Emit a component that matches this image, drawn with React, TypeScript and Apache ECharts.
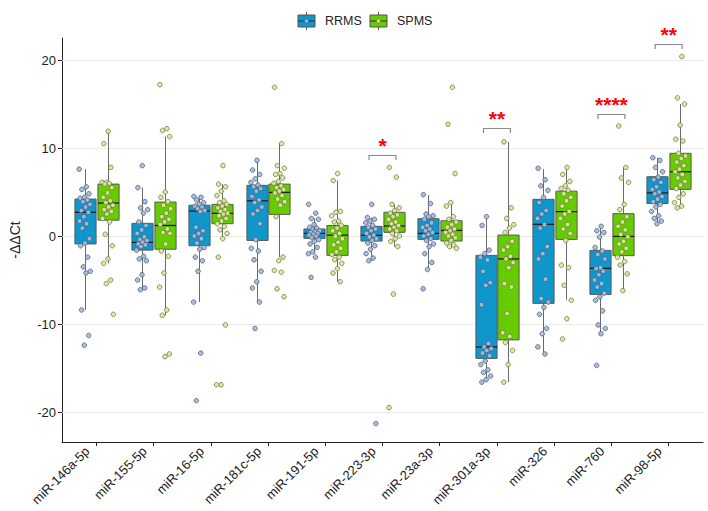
import React, { useEffect, useRef } from "react";
import * as echarts from "echarts";

const categories = [
  "miR-146a-5p", "miR-155-5p", "miR-16-5p", "miR-181c-5p", "miR-191-5p", "miR-223-3p",
  "miR-23a-3p", "miR-301a-3p", "miR-326", "miR-760", "miR-98-5p",
];
const groupNames = ["RRMS", "SPMS"];
const yTicks = [-20, -10, 0, 10, 20];

// box summaries: [lower whisker, Q1, median, Q3, upper whisker]
const rrmsBoxes = [
  [-8.4, -0.9, 2.7, 4.2, 7.6],
  [-6.1, -1.6, -0.72, 1.44, 5.5],
  [-7.5, -1.1, 2.84, 3.5, 4.5],
  [-7.5, -0.5, 4.0, 5.76, 8.6],
  [-2.0, -0.27, 0.3, 0.8, 2.0],
  [-2.8, -0.57, 0.08, 1.1, 2.1],
  [-3.8, -0.38, 0.3, 1.97, 4.66],
  [-16.6, -13.9, -12.6, -2.2, 2.16],
  [-13.4, -7.65, 1.33, 4.17, 7.6],
  [-11.1, -6.63, -3.67, -1.63, 1.14],
  [1.3, 3.7, 4.9, 6.74, 8.9],
];
const spmsBoxes = [
  [-3.1, 1.8, 3.75, 5.9, 11.9],
  [-9.0, -1.5, 1.2, 3.86, 11.3],
  [-0.3, 1.4, 2.58, 3.6, 5.9],
  [-2.4, 2.46, 4.96, 5.9, 10.5],
  [-5.2, -2.2, 0.1, 1.2, 6.3],
  [-1.2, 0.42, 1.14, 2.7, 3.6],
  [-1.4, -0.57, 0.64, 1.74, 3.8],
  [-16.6, -11.8, -2.6, 0.11, 10.7],
  [-7.3, -0.38, 2.77, 5.1, 7.8],
  [-6.2, -2.23, -0.04, 2.54, 7.8],
  [3.2, 5.3, 7.3, 9.4, 15.0],
];

// individual -ΔΔCt values per patient
const rrmsPoints = [
  [7.6, 5.6, 5.3, 4.8, 4.4, 4.3, 4.1, 3.9, 3.6, 3.3, 2.9, 2.7, 2.2, 1.7, 1.4, 0.9, -0.3, -0.8, -1.1, -2.4, -3.5, -4.0, -4.2, -8.4, -11.3, -12.4],
  [8.0, 5.5, 3.9, 3.2, 3.0, 2.6, 1.6, 1.2, 0.7, 0.3, -0.1, -0.4, -0.5, -0.7, -0.9, -1.0, -1.2, -1.6, -2.3, -2.6, -2.8, -4.4, -5.0, -5.9, -6.1],
  [4.5, 4.4, 4.1, 3.8, 3.6, 3.4, 3.3, 3.1, 2.9, 2.8, 1.0, 0.6, 0.3, 0.0, -0.3, -0.8, -1.3, -1.5, -2.4, -2.8, -4.0, -7.5, -13.3, -18.7],
  [8.6, 7.5, 7.0, 6.5, 6.1, 5.8, 5.6, 5.4, 5.1, 4.5, 4.1, 3.8, 3.3, 2.9, 2.5, 1.4, -0.4, -1.4, -1.7, -2.7, -4.0, -5.2, -5.9, -7.5, -10.5],
  [3.6, 2.6, 2.0, 1.9, 1.3, 1.0, 0.9, 0.7, 0.6, 0.5, 0.4, 0.3, 0.2, 0.1, 0.0, -0.2, -0.4, -0.6, -0.9, -1.3, -1.8, -2.0, -2.4, -4.7],
  [3.6, 2.1, 1.9, 1.7, 1.5, 1.2, 1.0, 0.8, 0.6, 0.3, 0.1, -0.1, -0.3, -0.5, -0.8, -1.1, -1.5, -2.0, -2.5, -2.8, -21.3],
  [4.7, 3.7, 2.5, 2.3, 2.2, 1.9, 1.5, 1.2, 1.0, 0.8, 0.6, 0.4, 0.2, 0.0, -0.3, -0.5, -0.9, -1.2, -2.0, -3.0, -3.8, -6.0],
  [2.2, 1.2, -1.6, -2.0, -2.4, -2.7, -4.0, -5.3, -5.6, -7.8, -12.2, -12.6, -12.8, -13.0, -13.3, -13.6, -14.2, -14.6, -15.2, -15.5, -15.9, -16.3, -16.6],
  [7.7, 6.4, 5.7, 5.2, 4.4, 3.8, 2.9, 2.5, 2.0, 1.3, 0.9, -1.2, -2.0, -2.6, -4.9, -7.1, -7.5, -8.1, -8.9, -10.5, -11.1, -12.6, -13.4],
  [1.1, 0.6, 0.4, -0.1, -1.3, -1.7, -2.1, -2.6, -3.6, -3.7, -4.0, -4.4, -5.0, -5.4, -5.8, -6.5, -6.9, -7.3, -8.5, -10.1, -10.5, -11.1, -14.7],
  [8.9, 8.6, 7.8, 7.3, 6.7, 6.4, 6.1, 5.6, 5.3, 5.0, 4.8, 4.5, 4.2, 3.9, 3.6, 3.3, 2.8, 2.3, 2.0, 1.7, 1.4],
];
const spmsPoints = [
  [11.9, 10.5, 7.8, 6.1, 6.1, 6.0, 5.9, 5.5, 4.9, 4.4, 4.0, 3.8, 3.5, 3.3, 3.0, 2.8, 2.5, 2.0, 1.6, 0.2, -1.1, -2.6, -3.1, -5.0, -5.4, -8.9],
  [17.2, 12.2, 12.0, 11.3, 5.0, 4.4, 3.9, 3.5, 3.1, 2.6, 2.2, 1.9, 1.6, 1.3, 0.8, 0.4, 0.3, -0.9, -1.7, -2.3, -4.2, -5.8, -8.4, -9.0, -13.4, -13.7],
  [8.0, 5.9, 5.6, 5.1, 4.6, 4.0, 3.8, 3.6, 3.4, 3.2, 3.0, 2.8, 2.6, 2.5, 2.3, 2.0, 1.7, 1.4, 1.1, 0.7, 0.3, -0.3, -2.4, -10.1, -16.9, -16.9],
  [16.9, 10.5, 8.0, 7.7, 7.1, 7.0, 6.6, 6.2, 6.0, 5.7, 5.5, 5.3, 5.1, 4.9, 4.6, 4.2, 3.9, 3.5, 2.2, -2.4, -2.8, -3.9, -4.1, -6.0, -6.9],
  [7.1, 6.3, 2.8, 2.7, 2.3, 1.7, 1.6, 1.2, 0.9, 0.6, 0.3, 0.0, -0.3, -0.7, -1.0, -1.4, -1.8, -2.1, -2.4, -2.7, -3.1, -3.7, -4.2, -5.2],
  [7.8, 6.7, 3.6, 3.2, 2.9, 2.6, 2.4, 2.2, 1.9, 1.6, 1.4, 1.2, 1.0, 0.8, 0.6, 0.3, 0.0, -0.3, -0.6, -1.2, -6.6, -19.5],
  [16.9, 12.7, 7.1, 3.8, 3.4, 2.2, 1.9, 1.6, 1.3, 1.0, 0.8, 0.6, 0.4, 0.2, 0.0, -0.2, -0.5, -0.8, -1.0, -1.2, -1.4],
  [10.7, 3.2, 2.0, 1.3, 0.9, 0.4, -0.6, -1.2, -1.6, -2.3, -2.6, -3.0, -3.6, -5.4, -5.8, -8.8, -11.0, -11.4, -12.1, -13.0, -14.6, -16.6],
  [7.8, 7.0, 6.2, 5.7, 5.4, 5.2, 4.8, 4.4, 4.0, 3.4, 2.8, 2.5, 2.0, 1.3, 0.8, 0.3, -0.5, -3.3, -3.6, -5.6, -7.3, -9.4, -11.7],
  [12.5, 7.8, 6.6, 6.1, 3.6, 3.0, 2.2, 1.6, 1.1, 0.7, 0.2, -0.1, -0.6, -0.9, -1.4, -1.8, -2.4, -2.9, -3.3, -4.3, -6.2],
  [20.4, 15.7, 15.0, 12.6, 11.0, 10.8, 9.4, 9.1, 8.8, 8.4, 8.0, 7.6, 7.3, 7.0, 6.6, 6.2, 5.8, 5.4, 4.8, 4.4, 3.8, 3.4, 3.2],
];

// significance annotations (RRMS vs SPMS)
const sigCategories = ["miR-223-3p", "miR-301a-3p", "miR-760", "miR-98-5p"];
const sigLabels = ["*", "**", "****", "**"];
const sigHeights = [9.2, 12.3, 13.9, 21.8];

const FONT = "'Liberation Sans', Arial, Helvetica, sans-serif";
const COLORS = ["#0f97cc", "#66cc00"];
const POINT_FILL = ["#a9bcd6", "#dde5a4"];
const POINT_EDGE = ["#4b5e80", "#6a7a3a"];
const DODGE = 0.2;
const BOX_W = 0.37;
const JITTER = 0.2;
// rotated tick labels end slightly left of their tick
const LABEL_SHIFT = 0.16;

function jitter(i: number, seed: number) {
  const f = ((i + seed * 7.3) * 0.6180339887) % 1;
  return (f - 0.5) * JITTER;
}

function boxSeries(boxes: number[][], g: number) {
  const offset = g === 0 ? -DODGE : DODGE;
  return {
    type: "custom",
    name: groupNames[g],
    z: 2,
    data: boxes.map((b, k) => [k, ...b]),
    renderItem: (params: any, api: any) => {
      const x = api.value(0) + offset;
      const lo = api.coord([x, api.value(1)]);
      const q1 = api.coord([x, api.value(2)]);
      const md = api.coord([x, api.value(3)]);
      const q3 = api.coord([x, api.value(4)]);
      const hi = api.coord([x, api.value(5)]);
      const hw = api.size([BOX_W, 0])[0] / 2;
      const cx = Math.round(q1[0]) + 0.5;
      return {
        type: "group",
        children: [
          { type: "line", shape: { x1: cx, y1: lo[1], x2: cx, y2: q1[1] }, style: { stroke: "#6b6b6b", lineWidth: 1 } },
          { type: "line", shape: { x1: cx, y1: q3[1], x2: cx, y2: hi[1] }, style: { stroke: "#6b6b6b", lineWidth: 1 } },
          {
            type: "rect",
            shape: { x: cx - hw, y: q3[1], width: hw * 2, height: q1[1] - q3[1] },
            style: { fill: COLORS[g], stroke: "#5a5a5a", lineWidth: 1 },
          },
          { type: "line", shape: { x1: cx - hw, y1: md[1], x2: cx + hw, y2: md[1] }, style: { stroke: "#1e1e1e", lineWidth: 1.3 } },
        ],
      };
    },
  };
}

function pointSeries(points: number[][], g: number) {
  const offset = g === 0 ? -DODGE : DODGE;
  const data: number[][] = [];
  points.forEach((vals, k) => {
    vals.forEach((v, i) => data.push([k + offset + jitter(i, k + g * 3), v]));
  });
  return {
    type: "scatter",
    name: groupNames[g] + " points",
    z: 3,
    symbol: "circle",
    symbolSize: 4.6,
    itemStyle: { color: POINT_FILL[g], borderColor: POINT_EDGE[g], borderWidth: 0.8, opacity: 0.95 },
    data,
  };
}

export default function App() {
  const ref = useRef<HTMLDivElement>(null);

  useEffect(() => {
    if (!ref.current) return;
    const chart = echarts.init(ref.current, undefined, { renderer: "svg" });
    const catIdx = categories.map((_, i) => i);

    const gridSeries = {
      type: "custom",
      name: "grid",
      z: 1,
      silent: true,
      data: yTicks.map((v) => [v]),
      renderItem: (params: any, api: any) => {
        const cs = params.coordSys;
        const y = Math.round(api.coord([0, api.value(0)])[1]) + 0.5;
        return {
          type: "line",
          shape: { x1: cs.x, y1: y, x2: cs.x + cs.width, y2: y },
          style: { stroke: "#ebebeb", lineWidth: 1 },
        };
      },
    };

    const sigSeries = {
      type: "custom",
      name: "significance",
      z: 4,
      silent: true,
      data: sigCategories.map((c, i) => [categories.indexOf(c), sigHeights[i], i]),
      renderItem: (params: any, api: any) => {
        const k = api.value(0);
        const h = api.value(1);
        const label = sigLabels[api.value(2)];
        const l = api.coord([k - 0.235, h]);
        const r = api.coord([k + 0.235, h]);
        const y = Math.round(l[1]) + 0.5;
        return {
          type: "group",
          children: [
            {
              type: "polyline",
              shape: { points: [[l[0], y + 4.5], [l[0], y], [r[0], y], [r[0], y + 4.5]] },
              style: { stroke: "#8a8a8a", lineWidth: 1.2, fill: "none" },
            },
            {
              type: "text",
              x: (l[0] + r[0]) / 2,
              y: y - 10,
              style: {
                text: label,
                fill: "#ff0000",
                fontSize: 21,
                fontWeight: "bold",
                fontFamily: FONT,
                align: "center",
                verticalAlign: "middle",
              },
            },
          ],
        };
      },
    };

    const legendItem = (g: number, x: number) => ({
      type: "group",
      x,
      y: 0,
      children: [
        { type: "line", shape: { x1: 8.5, y1: 12, x2: 8.5, y2: 30 }, style: { stroke: "#555", lineWidth: 1 } },
        { type: "rect", shape: { x: 0, y: 15, width: 17, height: 12 }, style: { fill: COLORS[g], stroke: "#555", lineWidth: 1 } },
        { type: "line", shape: { x1: 0, y1: 21, x2: 17, y2: 21 }, style: { stroke: "#333", lineWidth: 1 } },
        { type: "circle", shape: { cx: 8.5, cy: 21, r: 2 }, style: { fill: POINT_FILL[g], stroke: POINT_EDGE[g], lineWidth: 0.8 } },
        {
          type: "text",
          x: 27,
          y: 21,
          style: { text: groupNames[g], fontSize: 12.5, fontFamily: FONT, fill: "#222", verticalAlign: "middle" },
        },
      ],
    });

    chart.setOption({
      animation: false,
      backgroundColor: "#ffffff",
      textStyle: { fontFamily: FONT },
      grid: { left: 49, right: 5, top: 38, bottom: 69, containLabel: false },
      xAxis: {
        type: "value",
        min: -0.6,
        max: 10.6,
        axisLine: { show: true, onZero: false, lineStyle: { color: "#222", width: 1 } },
        axisTick: { show: true, customValues: catIdx, length: 4, lineStyle: { color: "#222" } },
        axisLabel: {
          show: true,
          customValues: catIdx.map((k) => k - LABEL_SHIFT),
          rotate: 45,
          margin: 7,
          fontSize: 13,
          color: "#222",
          fontFamily: FONT,
          formatter: (v: number) => categories[Math.round(v)] ?? "",
        },
        splitLine: { show: false },
      },
      yAxis: {
        type: "value",
        min: -23.4,
        max: 22.5,
        name: "-ΔΔCt",
        nameLocation: "middle",
        nameGap: 40,
        nameTextStyle: { fontSize: 14, color: "#222", fontFamily: FONT },
        axisLine: { show: true, onZero: false, lineStyle: { color: "#222", width: 1 } },
        axisTick: { show: true, customValues: yTicks, length: 4, lineStyle: { color: "#222" } },
        axisLabel: { show: true, customValues: yTicks, fontSize: 13, color: "#222", margin: 6, fontFamily: FONT },
        splitLine: { show: false },
      },
      graphic: [legendItem(0, 298), legendItem(1, 370)],
      series: [
        gridSeries,
        boxSeries(rrmsBoxes, 0),
        boxSeries(spmsBoxes, 1),
        pointSeries(rrmsPoints, 0),
        pointSeries(spmsPoints, 1),
        sigSeries,
      ],
    });

    return () => chart.dispose();
  }, []);

  return <div ref={ref} style={{ position: "fixed", left: 0, top: 0, width: 708, height: 511 }} />;
}
